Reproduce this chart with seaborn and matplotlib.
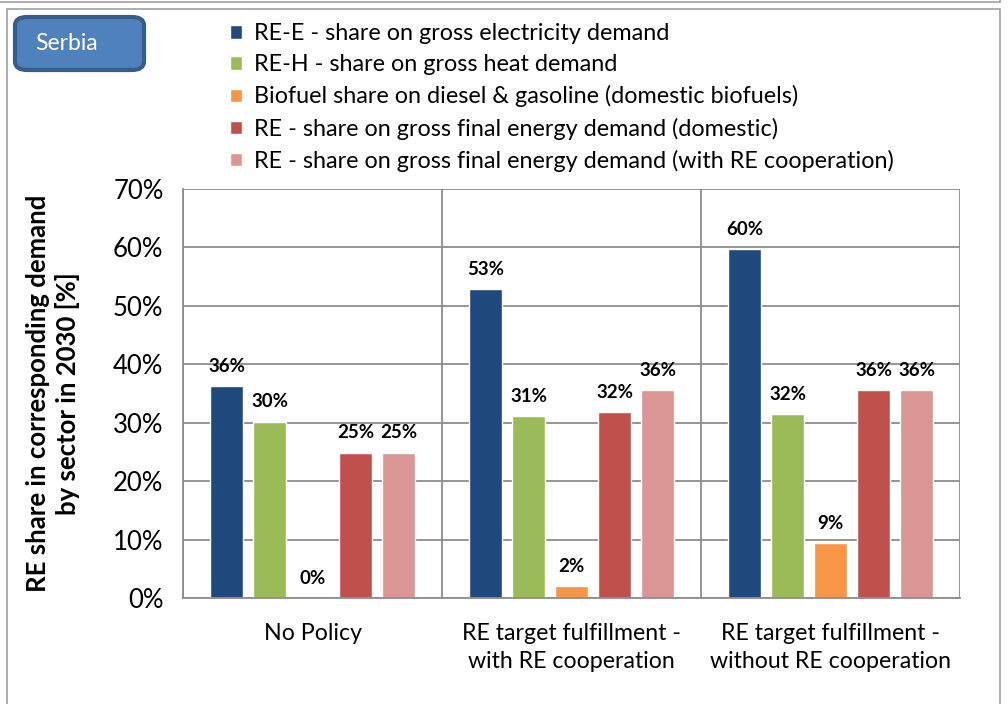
import matplotlib.pyplot as plt
import matplotlib.patches as mpatches
from matplotlib.lines import Line2D
from matplotlib.ticker import PercentFormatter
import numpy as np
import pandas as pd
import seaborn as sns

# data (RE share in 2030, %)
scenarios = [
    "No Policy",
    "RE target fulfillment -\nwith RE cooperation",
    "RE target fulfillment -\nwithout RE cooperation",
]
indicators = [
    "RE-E - share on gross electricity demand",
    "RE-H - share on gross heat demand",
    "Biofuel share on diesel & gasoline (domestic biofuels)",
    "RE - share on gross final energy demand (domestic)",
    "RE - share on gross final energy demand (with RE cooperation)",
]
re_e = [36.2, 52.9, 59.7]
re_h = [30.2, 31.2, 31.5]
biofuel = [0.0, 2.1, 9.4]
re_domestic = [24.9, 31.8, 35.6]
re_coop = [24.9, 35.6, 35.6]
yticks = [0, 10, 20, 30, 40, 50, 60, 70]

colors = ["#1F497D", "#9BBB59", "#F79646", "#C0504D", "#D99694"]
grid_gray = "#8C8C8C"

rows = []
for ind, vals in zip(indicators, [re_e, re_h, biofuel, re_domestic, re_coop]):
    for sc, v in zip(scenarios, vals):
        rows.append({"scenario": sc, "indicator": ind, "share": v})
df = pd.DataFrame(rows)

sns.set_style("white")
plt.rcParams["font.family"] = ["Lato", "DejaVu Sans"]
plt.rcParams.update({
    "text.color": "black",
    "axes.labelcolor": "black",
    "xtick.color": "black",
    "ytick.color": "black",
})

fig = plt.figure(figsize=(10.08, 7.04), dpi=100)
ax = fig.add_axes([183 / 1008, 1 - 598 / 704, 777 / 1008, 409 / 704])

sns.barplot(
    data=df,
    x="scenario",
    y="share",
    hue="indicator",
    hue_order=indicators,
    order=scenarios,
    palette=colors,
    saturation=1,
    width=0.83,
    gap=0.23,
    ax=ax,
)

# value labels above bars
for cont in ax.containers:
    ax.bar_label(
        cont,
        labels=[f"{v:.0f}%" for v in cont.datavalues],
        padding=8,
        fontsize=13.5,
        fontweight="bold",
    )

ax.set_ylim(0, 70)
ax.set_xlim(-0.5, 2.5)
ax.set_yticks(yticks)
ax.yaxis.set_major_formatter(PercentFormatter(decimals=0))
ax.set_xticks([-0.5, 0.5, 1.5, 2.5], minor=True)
ax.grid(axis="y", color=grid_gray, lw=1.3)
ax.grid(axis="x", which="minor", color=grid_gray, lw=1.3)
ax.set_axisbelow(True)
ax.tick_params(axis="y", length=6, color=grid_gray, width=1.3, labelsize=18.5, pad=8)
ax.tick_params(axis="x", which="major", length=0, labelsize=16.7, pad=18)
ax.tick_params(axis="x", which="minor", length=7, color=grid_gray, width=1.3)
for lbl in ax.get_xticklabels():
    lbl.set_linespacing(1.4)

for side in ["top", "right"]:
    ax.spines[side].set_visible(False)
for side in ["left", "bottom"]:
    ax.spines[side].set_color(grid_gray)
    ax.spines[side].set_linewidth(1.3)

ax.set_xlabel("")
ax.set_ylabel(
    "RE share in corresponding demand\nby sector in 2030 [%]",
    fontsize=18.5,
    fontweight="bold",
    linespacing=1.2,
)
ax.yaxis.set_label_coords(-0.133, 0.5)

handles, labels = ax.get_legend_handles_labels()
ax.get_legend().remove()
fig.legend(
    handles,
    labels,
    loc="upper left",
    bbox_to_anchor=(221 / 1008, 1 - 14 / 704),
    frameon=False,
    fontsize=16.8,
    handlelength=0.5,
    handleheight=0.5,
    handletextpad=0.5,
    labelspacing=0.43,
    borderaxespad=0,
)

# outer frame and the country box
fig.patches.append(
    mpatches.Rectangle(
        (7 / 1008, -0.01), 993 / 1008, 1 - 9 / 704 + 0.01,
        transform=fig.transFigure, fill=False, edgecolor="#A0A0A0", lw=1.2,
    )
)
fig.lines.append(
    Line2D([0, 1000 / 1008], [1 - 2 / 704] * 2, transform=fig.transFigure,
           color="#A0A0A0", lw=1.2)
)
fig.lines.append(
    Line2D([1000 / 1008] * 2, [1 - 2 / 704, 1], transform=fig.transFigure,
           color="#A0A0A0", lw=1.2)
)
fig.patches.append(
    mpatches.FancyBboxPatch(
        (15 / 1008, 1 - 70 / 704), 129 / 1008, 53 / 704,
        boxstyle="round,pad=0,rounding_size=0.012",
        transform=fig.transFigure, facecolor="#4F81BD", edgecolor="#385D8A", lw=3,
    )
)
fig.text(35 / 1008, 1 - 43 / 704, "Serbia", color="white", fontsize=16.5,
         ha="left", va="center")

fig.savefig("out.png", dpi=100)
